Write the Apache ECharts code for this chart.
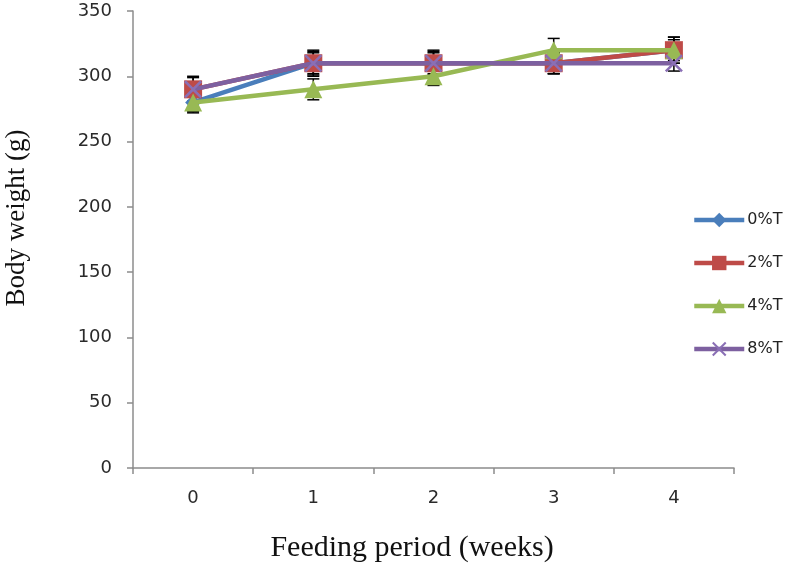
<!DOCTYPE html>
<html>
<head>
<meta charset="utf-8">
<script src="https://cdn.jsdelivr.net/npm/echarts@6/dist/echarts.min.js"></script>
<style>html,body{margin:0;padding:0;background:#fff}#c{width:787px;height:568px}</style>
</head>
<body>
<div id="c"></div>
<script>
var categories = ['0', '1', '2', '3', '4'];
var seriesNames = ['0%T', '2%T', '4%T', '8%T'];
var v0 = [280, 310, 310, 310, 320];
var v2 = [290, 310, 310, 310, 320];
var v4 = [280, 290, 300, 320, 320];
var v8 = [290, 310, 310, 310, 310];
var e0 = [8, 8, 8, 8, 8];
var e2 = [10, 10, 10, 8, 10];
var e4 = [7, 8, 7, 9, 10];
var e8 = [9, 9, 9, 8, 6];
var yTicks = [0, 50, 100, 150, 200, 250, 300, 350];

var colors = ['#4A7EBB', '#BE4B48', '#98B954', '#7D60A0'];
var symbols = ['diamond', 'rect', 'triangle',
  'path://M0,1 L1,0 L5,4 L9,0 L10,1 L6,5 L10,9 L9,10 L5,6 L1,10 L0,9 L4,5 Z'];
var symSizes = [16, 18, 18, 18];
var values = [v0, v2, v4, v8];
var errs = [e0, e2, e4, e8];

var series = [];
values.forEach(function (vals, si) {
  var d = vals.map(function (v, i) { return [i, v - errs[si][i], v + errs[si][i]]; });
  series.push({
    type: 'custom',
    name: seriesNames[si] + ' err',
    z: 1,
    silent: true,
    data: d,
    renderItem: function (params, api) {
      var x = api.value(0);
      var lo = api.coord([x, api.value(1)]);
      var hi = api.coord([x, api.value(2)]);
      var w = 6;
      var st = { stroke: '#000', lineWidth: 1.5 };
      return {
        type: 'group',
        children: [
          { type: 'line', shape: { x1: lo[0], y1: lo[1], x2: hi[0], y2: hi[1] }, style: st },
          { type: 'line', shape: { x1: lo[0] - w, y1: lo[1], x2: lo[0] + w, y2: lo[1] }, style: st },
          { type: 'line', shape: { x1: hi[0] - w, y1: hi[1], x2: hi[0] + w, y2: hi[1] }, style: st }
        ]
      };
    }
  });
});
values.forEach(function (vals, si) {
  series.push({
    type: 'line',
    name: seriesNames[si],
    data: vals,
    z: 2 + si,
    symbol: symbols[si],
    symbolSize: symSizes[si],
    showAllSymbol: true,
    lineStyle: { color: colors[si], width: 4.5 },
    itemStyle: { color: si === 3 ? '#8A6FB5' : colors[si] },
    animation: false
  });
});

var chart = echarts.init(document.getElementById('c'));
chart.setOption({
  animation: false,
  grid: { left: 133, right: 53, top: 11, bottom: 100, containLabel: false },
  legend: {
    data: seriesNames,
    orient: 'vertical',
    left: 687,
    top: 207,
    itemWidth: 50,
    itemHeight: 18,
    itemGap: 27,
    lineStyle: { width: 4.5 },
    textStyle: { fontFamily: 'DejaVu Sans', fontSize: 16, color: '#222', padding: [0, 0, 0, -2] }
  },
  xAxis: {
    type: 'category',
    data: categories,
    boundaryGap: true,
    axisLine: { lineStyle: { color: '#8c8c8c', width: 1.5 } },
    axisTick: { show: true, length: 6, lineStyle: { color: '#8c8c8c', width: 1.5 } },
    axisLabel: { fontFamily: 'DejaVu Sans', fontSize: 18, color: '#2a2a2a', margin: 21 },
    splitLine: { show: false }
  },
  yAxis: {
    type: 'value',
    min: 0,
    max: 350,
    interval: 50,
    axisLine: { show: true, lineStyle: { color: '#8c8c8c', width: 1.5 } },
    axisTick: { show: true, length: 6, lineStyle: { color: '#8c8c8c', width: 1.5 } },
    axisLabel: { fontFamily: 'DejaVu Sans', fontSize: 18, color: '#2a2a2a', margin: 21,
      formatter: function (v) { return yTicks.indexOf(v) >= 0 ? String(v) : ''; } },
    splitLine: { show: false }
  },
  graphic: [
    { type: 'text', x: 17, y: 218, rotation: Math.PI / 2,
      style: { text: 'Body weight (g)', font: '27px "Liberation Serif"', fill: '#111',
        textAlign: 'center', textVerticalAlign: 'middle' } },
    { type: 'text', x: 412, y: 548,
      style: { text: 'Feeding period (weeks)', font: '30px "Liberation Serif"', fill: '#111',
        textAlign: 'center', textVerticalAlign: 'middle' } }
  ],
  series: series
});
</script>
</body>
</html>
